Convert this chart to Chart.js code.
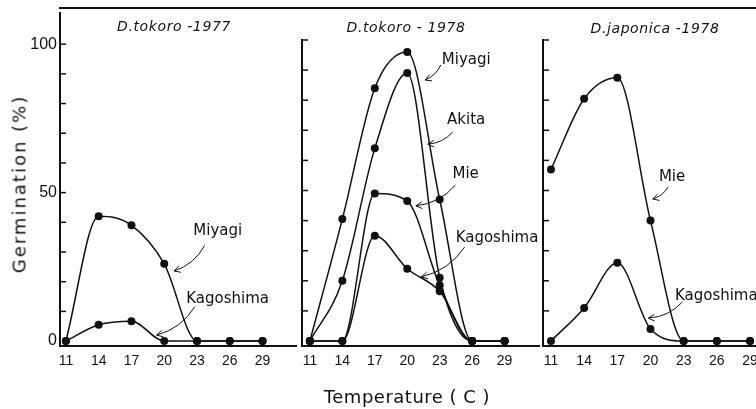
<!DOCTYPE html>
<html>
<head>
<title>Germination</title>
<script src="https://cdn.jsdelivr.net/npm/chart.js"></script>
<style>
  body {
    margin: 0;
    width: 756px;
    height: 409px;
    overflow: hidden;
    position: relative;
    background: #fff;
    color: #111;
    font-family: "DejaVu Sans", sans-serif;
  }
  canvas { position: absolute; top: 0; }
  .txt {
    position: absolute;
    transform: translate(-50%, -50%);
    white-space: nowrap;
  }
  .panel-title { font-size: 14px; font-style: italic; letter-spacing: 0.6px; }
  #frame { position: absolute; left: 59px; top: 7px; width: 697px; height: 2px; background: #111; }
  #xtitle { left: 407px; top: 396px; font-size: 18px; letter-spacing: 0.5px; }
  #ytitle { left: 19px; top: 184px; font-size: 18px; letter-spacing: 2px; transform: translate(-50%, -50%) rotate(-90deg); }
</style>
</head>
<body>
<div id="frame"></div>
<canvas id="p1" width="300" height="409" style="left:0px"></canvas>
<canvas id="p2" width="251" height="409" style="left:292px"></canvas>
<canvas id="p3" width="233" height="409" style="left:533px"></canvas>
<div class="txt panel-title" style="left:174px;top:26px">D.tokoro -1977</div>
<div class="txt panel-title" style="left:406px;top:27px">D.tokoro - 1978</div>
<div class="txt panel-title" style="left:655px;top:28px">D.japonica -1978</div>
<div class="txt" id="xtitle">Temperature ( C )</div>
<div class="txt" id="ytitle">Germination (%)</div>
<script>
  // temperatures (C)
  const temps = [11, 14, 17, 20, 23, 26, 29];
  // germination (%)
  const tokoro77Miyagi = [0, 42, 39, 26, 0, 0, 0];
  const tokoro77Kagoshima = [0, 5.5, 6.7, 0, 0, 0, 0];
  const tokoro78Miyagi = [0, 40.5, 84, 96, 47, 0, 0];
  const tokoro78Akita = [0, 20, 64, 89, 21, 0, 0];
  const tokoro78Mie = [0, 0, 49, 46.5, 18.5, 0, 0];
  const tokoro78Kagoshima = [0, 0, 35, 24, 16.5, 0, 0];
  const japonica78Mie = [57, 80.5, 87.5, 40, 0, 0, 0];
  const japonica78Kagoshima = [0, 11, 26, 4, 0, 0, 0];

  const yTicks = [0, 10, 20, 30, 40, 50, 60, 70, 80, 90, 100];
  const yLabels = [0, 50, 100];

  // series labels with arrows, in data units: text centre, arrow tail, arrow tip
  const notes77 = [
    { text: "Miyagi", at: [24.9, 37.2], from: [23.7, 32.2], to: [20.9, 23.6] },
    { text: "Kagoshima", at: [25.8, 14.3], from: [22.8, 11.6], to: [19.3, 2.0] },
  ];
  const notes78 = [
    { text: "Miyagi", at: [25.45, 93.4], from: [23.1, 91.7], to: [21.65, 86.7] },
    { text: "Akita", at: [25.45, 73.4], from: [24.2, 69.4], to: [21.9, 65.4] },
    { text: "Mie", at: [25.4, 55.5], from: [24.45, 51.8], to: [20.8, 44.9] },
    { text: "Kagoshima", at: [28.3, 34.2], from: [25.3, 31.2], to: [21.3, 21.3] },
  ];
  const notesJap = [
    { text: "Mie", at: [21.95, 54.5], from: [21.6, 51.2], to: [20.2, 47.2] },
    { text: "Kagoshima", at: [25.95, 15.0], from: [22.9, 13.0], to: [19.8, 7.6] },
  ];

  const decor = {
    id: "decor",
    afterDatasetsDraw(chart, args, opts) {
      const ctx = chart.ctx;
      const x = chart.scales.x, y = chart.scales.y;
      ctx.save();
      ctx.strokeStyle = "#111";
      ctx.fillStyle = "#111";
      ctx.lineWidth = 1.5;
      // inward tick marks on the y axis
      yTicks.forEach((v) => {
        if (v === 0) return;
        const py = y.getPixelForValue(v);
        ctx.beginPath();
        ctx.moveTo(x.left, py);
        ctx.lineTo(x.left + 6, py);
        ctx.stroke();
      });
      ctx.font = '15px "DejaVu Sans", sans-serif';
      ctx.textAlign = "center";
      ctx.textBaseline = "middle";
      ctx.lineWidth = 1;
      (opts.notes || []).forEach((n) => {
        ctx.fillText(n.text, x.getPixelForValue(n.at[0]), y.getPixelForValue(n.at[1]));
        const x0 = x.getPixelForValue(n.from[0]), y0 = y.getPixelForValue(n.from[1]);
        const x1 = x.getPixelForValue(n.to[0]), y1 = y.getPixelForValue(n.to[1]);
        const dx = x1 - x0, dy = y1 - y0;
        const cx = (x0 + x1) / 2 + dy * 0.2, cy = (y0 + y1) / 2 - dx * 0.2;
        ctx.beginPath();
        ctx.moveTo(x0, y0);
        ctx.quadraticCurveTo(cx, cy, x1, y1);
        ctx.stroke();
        const ang = Math.atan2(y1 - cy, x1 - cx);
        ctx.beginPath();
        ctx.moveTo(x1 - 7 * Math.cos(ang - 0.5), y1 - 7 * Math.sin(ang - 0.5));
        ctx.lineTo(x1, y1);
        ctx.lineTo(x1 - 7 * Math.cos(ang + 0.5), y1 - 7 * Math.sin(ang + 0.5));
        ctx.stroke();
      });
      ctx.restore();
    },
  };

  function series(values) {
    return {
      data: temps.map((t, i) => ({ x: t, y: values[i] })),
      borderColor: "#111",
      borderWidth: 1.5,
      pointRadius: 4,
      pointBackgroundColor: "#111",
      pointBorderWidth: 0,
      cubicInterpolationMode: "monotone",
      clip: false,
    };
  }

  function makePanel(id, seriesList, notes, opt) {
    new Chart(document.getElementById(id), {
      type: "line",
      data: { datasets: seriesList.map(series) },
      plugins: [decor],
      options: {
        responsive: false,
        devicePixelRatio: 1,
        animation: false,
        layout: { padding: { top: opt.top, right: opt.right, left: 0, bottom: 0 } },
        plugins: { legend: { display: false }, tooltip: { enabled: false }, decor: { notes: notes } },
        scales: {
          x: {
            type: "linear",
            min: opt.xmin,
            max: opt.xmax,
            afterBuildTicks: (s) => { s.ticks = temps.map((v) => ({ value: v })); },
            afterFit: (s) => { s.height = 63; },
            ticks: {
              autoSkip: false,
              maxRotation: 0,
              padding: 7,
              color: "#111",
              font: { family: "Liberation Sans", size: 14 },
            },
            grid: { drawOnChartArea: false, drawTicks: false },
            border: { color: "#111", width: 2 },
          },
          y: {
            min: -1.66,
            max: opt.ymax,
            afterBuildTicks: (s) => { s.ticks = yTicks.map((v) => ({ value: v })); },
            afterFit: (s) => { s.width = opt.yw; },
            ticks: {
              display: opt.labels,
              padding: 3,
              color: "#111",
              font: { family: "Liberation Sans", size: 16 },
              callback: (v) => (yLabels.includes(v) ? String(v) : ""),
            },
            grid: { drawOnChartArea: false, drawTicks: false },
            border: { color: "#111", width: 2 },
          },
        },
      },
    });
  }

  makePanel("p1", [tokoro77Miyagi, tokoro77Kagoshima], notes77,
    { top: 8, right: 0, yw: 60, labels: true, ymax: 110.63, xmin: 10.46, xmax: 32.06 });
  makePanel("p2", [tokoro78Miyagi, tokoro78Akita, tokoro78Mie, tokoro78Kagoshima], notes78,
    { top: 40, right: 0, yw: 10, labels: false, ymax: 100, xmin: 10.27, xmax: 32.18 });
  makePanel("p3", [japonica78Mie, japonica78Kagoshima], notesJap,
    { top: 40, right: 10, yw: 10, labels: false, ymax: 100, xmin: 10.28, xmax: 29.54 });
</script>
</body>
</html>
